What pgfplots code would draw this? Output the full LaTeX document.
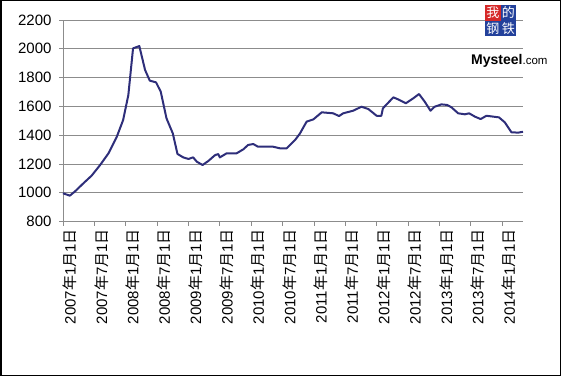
\documentclass[border=0pt]{standalone}
\usepackage{fontspec}
\setmainfont{Liberation Sans}
\newfontfamily\cjk{Noto Sans CJK SC}
\usepackage{pgfplots}
\pgfplotsset{compat=1.18}
\definecolor{navy}{RGB}{46,46,122}
\definecolor{gridgray}{RGB}{140,140,140}
\definecolor{logored}{RGB}{214,40,40}
\definecolor{logoblue}{RGB}{35,65,155}
\newcommand{\dl}[2]{#1{\cjk 年}#2{\cjk 月}1{\cjk 日}}
\begin{document}
\begin{tikzpicture}
\useasboundingbox (0pt,0pt) rectangle (561pt,376pt);
\begin{axis}[
  at={(63pt,154.4pt)}, anchor=south west,
  scale only axis, width=460pt, height=201.6pt,
  xmin=0, xmax=88, ymin=800, ymax=2200,
  axis x line*=bottom, axis y line*=left,
  axis line style={gridgray, line width=0.8pt},
  xtick={0,6,...,84},
  xticklabels={\dl{2007}{1},\dl{2007}{7},\dl{2008}{1},\dl{2008}{7},\dl{2009}{1},\dl{2009}{7},\dl{2010}{1},\dl{2010}{7},\dl{2011}{1},\dl{2011}{7},\dl{2012}{1},\dl{2012}{7},\dl{2013}{1},\dl{2013}{7},\dl{2014}{1}},
  ytick={800,1000,...,2200},
  ymajorgrids, grid style={gridgray, line width=0.8pt},
  tick align=outside, major tick length=4pt,
  tick style={gridgray, line width=0.8pt},
  xticklabel style={rotate=90, anchor=east, yshift=-7pt, font=\fontsize{15}{15}\selectfont},
  yticklabel style={xshift=-4pt, font=\fontsize{15}{15}\selectfont},
  /pgf/number format/assume math mode=true,
  /pgf/number format/set thousands separator={},
  clip=false,
]
\addplot[navy, line width=2pt, line join=round] coordinates {
(0,997) (1.3,980) (2.3,1010) (3.9,1066) (5.5,1120) (7.1,1193) (8.7,1274)
(10.3,1390) (11.5,1505) (12.5,1679) (13.4,2003) (14.6,2019) (15.7,1853)
(16.6,1779) (17.8,1767) (18.7,1702) (19.8,1517) (21.0,1413) (21.9,1270)
(23.0,1246) (24.0,1235) (24.9,1246) (25.6,1216) (26.7,1193) (27.8,1221)
(29.1,1262) (29.7,1269) (30.0,1246) (31.3,1274) (33.2,1274) (34.5,1302)
(35.4,1332) (36.4,1339) (37.3,1320) (40.2,1320) (41.5,1309) (42.8,1309)
(44.4,1367) (45.3,1410) (46.6,1494) (47.9,1510) (49.5,1559) (51.7,1552)
(52.8,1533) (53.6,1552) (55.5,1570) (57.1,1598) (58.4,1582) (60.0,1535)
(60.9,1535) (61.2,1587) (63.2,1663) (64.1,1649) (65.6,1622) (67.0,1656)
(68.1,1686) (69.2,1633) (70.3,1570) (71.1,1598) (72.4,1614) (73.5,1610)
(74.3,1594) (75.6,1552) (76.9,1545) (77.7,1552) (78.8,1529) (79.9,1512)
(81.0,1535) (82.3,1529) (83.4,1524) (84.5,1490) (85.8,1420) (87.1,1418)
(88.0,1424)
};
\end{axis}
% logo
\fill[logored] (485pt,371pt) rectangle (500.5pt,355.5pt);
\fill[logoblue] (500.5pt,371pt) rectangle (516pt,355.5pt);
\fill[logoblue] (485pt,355.5pt) rectangle (500.5pt,340pt);
\fill[logoblue] (500.5pt,355.5pt) rectangle (516pt,340pt);
\node[white, inner sep=0pt, font=\cjk\fontsize{13}{13}\selectfont] at (492.75pt,363.25pt) {我};
\node[white, inner sep=0pt, font=\cjk\fontsize{13}{13}\selectfont] at (508.25pt,363.25pt) {的};
\node[white, inner sep=0pt, font=\cjk\fontsize{13}{13}\selectfont] at (492.75pt,347.75pt) {钢};
\node[white, inner sep=0pt, font=\cjk\fontsize{13}{13}\selectfont] at (508.25pt,347.75pt) {铁};
\node[anchor=base west, inner sep=0pt] at (471pt,312pt) {{\fontsize{14}{14}\selectfont\bfseries Mysteel}{\fontsize{11.5}{11.5}\selectfont .com}};
% frame
\draw[black, line width=1.5pt] (0.75pt,0.75pt) rectangle (560.25pt,375.25pt);
\end{tikzpicture}
\end{document}
